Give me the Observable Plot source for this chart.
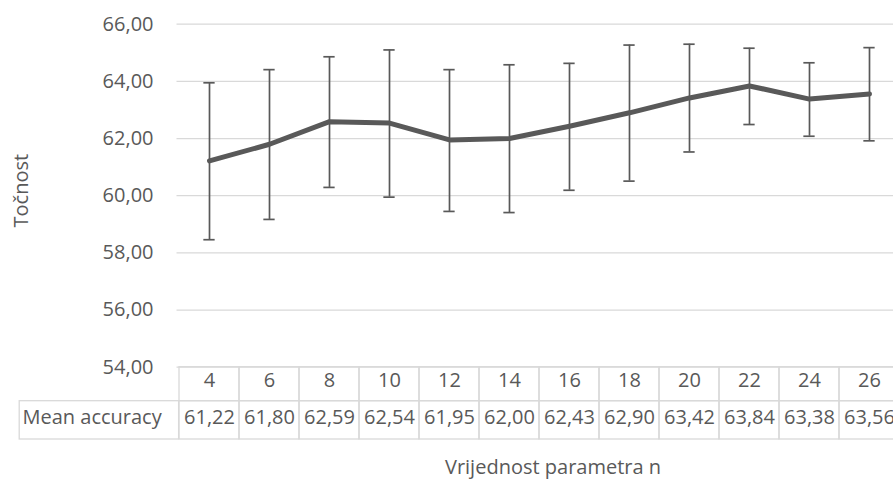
<!DOCTYPE html>
<html>
<head>
<meta charset="utf-8">
<script src="https://cdn.jsdelivr.net/npm/d3@7"></script>
<script src="https://cdn.jsdelivr.net/npm/@observablehq/plot@0.6"></script>
<style>
  html, body { margin: 0; padding: 0; background: #fff; overflow: hidden; }
  #chart { width: 893px; height: 484px; }
</style>
</head>
<body>
<div id="chart"></div>
<script>
// Data
const categories = [4, 6, 8, 10, 12, 14, 16, 18, 20, 22, 24, 26];
const meanAccuracy = [61.22, 61.80, 62.59, 62.54, 61.95, 62.00, 62.43, 62.90, 63.42, 63.84, 63.38, 63.56];
const errLow = [58.46, 59.17, 60.29, 59.95, 59.45, 59.41, 60.19, 60.51, 61.53, 62.49, 62.08, 61.92];
const errHigh = [63.95, 64.41, 64.86, 65.10, 64.41, 64.58, 64.63, 65.27, 65.30, 65.16, 64.65, 65.18];
const yTicks = [54, 56, 58, 60, 62, 64, 66];
const seriesName = "Mean accuracy";
const yTitle = "Točnost";
const xTitle = "Vrijednost parametra n";

(function () {
const fmt = v => v.toFixed(2).replace(".", ",");
const data = categories.map((c, i) => ({n: String(c), mean: meanAccuracy[i], lo: errLow[i], hi: errHigh[i]}));

const W = 893, H = 484;
const padL = 176.5, padT = 23.7, plotB = 366.7;
const band = 60.4;
const grid = "#d9d9d9", ink = "#595959";
const rowH = 34, tableBottom = 72.3;

const chart = Plot.plot({
  width: W, height: H,
  marginLeft: padL, marginRight: 0, marginTop: padT, marginBottom: H - plotB,
  style: {fontFamily: "'Open Sans', sans-serif", fontSize: "20px", color: ink, background: "#fff"},
  x: {type: "band", domain: categories.map(String), range: [padL, padL + band * categories.length], padding: 0, axis: null},
  y: {domain: [54, 66], range: [plotB, padT], axis: null},
  marks: [
    Plot.gridY(yTicks, {stroke: grid, strokeOpacity: 1, strokeWidth: 1.3}),
    Plot.axisY(yTicks, {tickSize: 0, tickPadding: 23.5, tickFormat: fmt, label: null, fontSize: 20, fill: ink}),
    // data table: header cells and value cells
    Plot.barY(data, {x: "n", y1: 54, y2: 54, insetTop: 0, insetBottom: -rowH, fill: "none", stroke: grid, strokeWidth: 1.3}),
    Plot.barY(data, {x: "n", y1: 54, y2: 54, insetTop: rowH, insetBottom: -tableBottom, fill: "none", stroke: grid, strokeWidth: 1.3}),
    Plot.barY(data.slice(0, 1), {x: "n", y1: 54, y2: 54, insetTop: rowH, insetBottom: -tableBottom, insetLeft: -(padL - 16.7), insetRight: band, fill: "none", stroke: grid, strokeWidth: 1.3}),
    Plot.text(data, {x: "n", text: "n", frameAnchor: "bottom", dy: 20, fill: ink, fontSize: 20}),
    Plot.text(data, {x: "n", text: d => fmt(d.mean), frameAnchor: "bottom", dy: 57, fill: ink, fontSize: 20}),
    Plot.text([seriesName], {frameAnchor: "bottom-left", textAnchor: "start", dx: 22 - padL, dy: 57, fill: ink, fontSize: 20}),
    // error bars
    Plot.ruleX(data, {x: "n", y1: "lo", y2: "hi", stroke: ink, strokeWidth: 1.7}),
    Plot.tickY(data, {x: "n", y: "hi", inset: (band - 11.7) / 2, stroke: ink, strokeWidth: 1.7}),
    Plot.tickY(data, {x: "n", y: "lo", inset: (band - 11.7) / 2, stroke: ink, strokeWidth: 1.7}),
    // line
    Plot.lineY(data, {x: "n", y: "mean", stroke: ink, strokeWidth: 5, strokeLinecap: "round", strokeLinejoin: "round"}),
    // axis titles
    Plot.text([yTitle], {frameAnchor: "left", textAnchor: "middle", rotate: -90, dx: 21 - padL, dy: -5, fill: ink, fontSize: 20}),
    Plot.text([xTitle], {frameAnchor: "bottom", textAnchor: "middle", dx: 552.5 - (padL + W) / 2, dy: 107, fill: ink, fontSize: 20})
  ]
});
document.getElementById("chart").appendChild(chart);
})();
</script>
</body>
</html>
